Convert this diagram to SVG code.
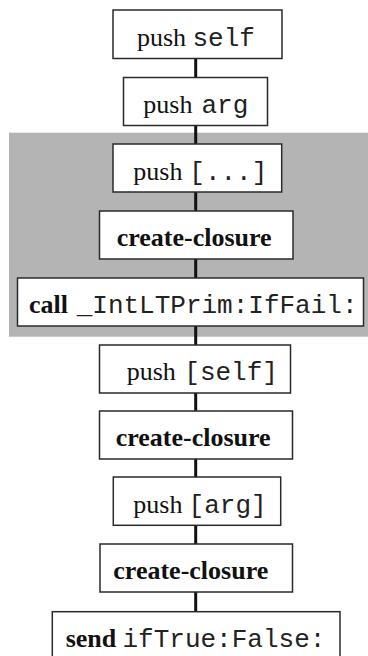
<svg xmlns="http://www.w3.org/2000/svg" width="368" height="656" viewBox="0 0 368 656">
<style>
.box{fill:#fff;stroke:#2a2a2a;stroke-width:1.5}
.s{font-family:"Liberation Serif","Times New Roman",serif;font-size:26px;fill:#111}
.b{font-family:"Liberation Serif","Times New Roman",serif;font-size:26px;font-weight:bold;fill:#111}
.m{font-family:"Liberation Mono","Courier New",monospace;font-size:26px;fill:#222}
.c{stroke:#111;stroke-width:3;fill:none}
</style>
<rect x="9" y="132.7" width="360" height="204" fill="#b4b4b4"/>
<g id="connectors">
<line class="c" x1="195.7" y1="58.5" x2="195.7" y2="77.5"/>
<line class="c" x1="195.7" y1="125.5" x2="195.7" y2="144"/>
<line class="c" x1="195.7" y1="192" x2="195.7" y2="211"/>
<line class="c" x1="195.7" y1="259" x2="195.7" y2="278"/>
<line class="c" x1="195.7" y1="326" x2="195.7" y2="345"/>
<line class="c" x1="195.7" y1="393" x2="195.7" y2="411"/>
<line class="c" x1="195.7" y1="459" x2="195.7" y2="477"/>
<line class="c" x1="195.7" y1="525" x2="195.7" y2="544"/>
<line class="c" x1="195.7" y1="592" x2="195.7" y2="611.7"/>
</g>
<g id="n1">
<rect class="box" x="113" y="10" width="169" height="48.5"/>
<text y="45.5"><tspan class="s" x="137">push</tspan><tspan class="m" x="192.5">self</tspan></text>
</g>
<g id="n2">
<rect class="box" x="123.5" y="77.5" width="144" height="48"/>
<text y="113"><tspan class="s" x="143.3">push</tspan><tspan class="m" x="201.5">arg</tspan></text>
</g>
<g id="n3">
<rect class="box" x="113" y="144" width="168.7" height="48"/>
<text y="179.5"><tspan class="s" x="133.3">push</tspan><tspan class="m" x="189.3">[...]</tspan></text>
</g>
<g id="n4">
<rect class="box" x="99.5" y="211" width="193.5" height="48"/>
<text class="b" x="116.7" y="245.5">create-closure</text>
</g>
<g id="n5">
<rect class="box" x="17.5" y="278" width="346" height="48"/>
<text y="312.7"><tspan class="b" x="29">call</tspan><tspan class="m" x="76.7">_IntLTPrim:IfFail:</tspan></text>
</g>
<g id="n6">
<rect class="box" x="99.5" y="345" width="191" height="48"/>
<text y="380"><tspan class="s" x="126.7">push</tspan><tspan class="m" x="184.3">[self]</tspan></text>
</g>
<g id="n7">
<rect class="box" x="99.5" y="411" width="193" height="48"/>
<text class="b" x="115.7" y="445.5">create-closure</text>
</g>
<g id="n8">
<rect class="box" x="113.3" y="477" width="167.4" height="48.3"/>
<text y="512.5"><tspan class="s" x="133.3">push</tspan><tspan class="m" x="188.6">[arg]</tspan></text>
</g>
<g id="n9">
<rect class="box" x="100" y="544" width="192.5" height="48"/>
<text class="b" x="113.3" y="578.5">create-closure</text>
</g>
<g id="n10">
<rect class="box" x="52.3" y="611.7" width="287.7" height="48"/>
<text y="646.5"><tspan class="b" x="65.7">send</tspan><tspan class="m" x="122.5">ifTrue:False:</tspan></text>
</g>
</svg>
